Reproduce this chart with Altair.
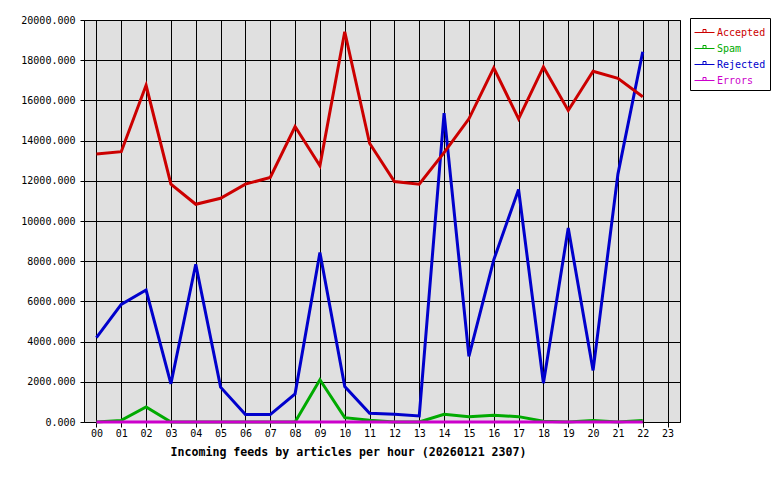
import json
import altair as alt
import pandas as pd

hours = [0, 1, 2, 3, 4, 5, 6, 7, 8, 9, 10, 11, 12, 13, 14, 15, 16, 17, 18, 19, 20, 21, 22]
accepted = [13333, 13450, 16750, 11833, 10833, 11133, 11833, 12167, 14700, 12750, 19417, 13867,
            11967, 11833, 13400, 15083, 17617, 15083, 17667, 15500, 17450, 17100, 16180]
spam = [0, 80, 750, 0, 0, 0, 0, 0, 0, 2100, 217, 90, 0, 0, 383, 267, 333, 267, 40, 0, 80, 0, 80]
rejected = [4200, 5850, 6567, 1900, 7850, 1733, 367, 367, 1400, 8433, 1767, 433, 380, 300,
            15367, 3267, 8067, 11567, 1933, 9650, 2567, 12333, 18417]
errors = [0, 0, 0, 0, 0, 0, 0, 0, 0, 0, 0, 0, 0, 0, 0, 0, 0, 0, 0, 0, 0, 0, 0]

series_names = ["Accepted", "Spam", "Rejected", "Errors"]
series_colors = ["#cc0000", "#00aa00", "#0000cc", "#cc00cc"]
draw_order = ["Spam", "Rejected", "Accepted", "Errors"]
tick_labels = ["00", "01", "02", "03", "04", "05", "06", "07", "08", "09", "10", "11",
               "12", "13", "14", "15", "16", "17", "18", "19", "20", "21", "22", "23"]
y_ticks = [0, 2000, 4000, 6000, 8000, 10000, 12000, 14000, 16000, 18000, 20000]
title_text = "Incoming feeds by articles per hour (20260121 2307)"

rows = []
for name, vals in zip(series_names, [accepted, spam, rejected, errors]):
    for h, v in zip(hours, vals):
        rows.append({"hour": h, "value": v, "series": name})
df = pd.DataFrame(rows)

MONO = "DejaVu Sans Mono"

x_enc = alt.X(
    "hour:Q",
    scale=alt.Scale(domain=[-0.5, 23.5], nice=False, zero=False),
    axis=alt.Axis(
        values=list(range(len(tick_labels))),
        labelExpr=json.dumps(tick_labels).replace('"', "'") + "[datum.value]",
        title=title_text,
        grid=True, gridColor="black", gridOpacity=1, gridWidth=1,
        domain=False,
        tickColor="black", tickSize=5, tickWidth=1,
        labelPadding=1, labelFont=MONO, labelFontSize=10, labelColor="black",
        labelFlush=False, labelOverlap=False,
        titleFont=MONO, titleFontSize=11.6, titleFontWeight="bold", titleColor="black",
        titleX=264, titleY=30, titleAlign="center", titleBaseline="middle",
        titleAnchor="start",
    ),
)
y_enc = alt.Y(
    "value:Q",
    scale=alt.Scale(domain=[0, 20000], nice=False),
    axis=alt.Axis(
        values=y_ticks, format=".3f", title=None,
        grid=True, gridColor="black", gridOpacity=1, gridWidth=1,
        domain=False,
        tickColor="black", tickSize=4, tickWidth=1,
        labelPadding=5, labelFont=MONO, labelFontSize=10, labelColor="black",
        labelFlush=False, labelOverlap=False,
    ),
)
label_color_expr = " : ".join(
    f"datum.value == '{n}' ? '{c}'" for n, c in zip(series_names, series_colors)
) + " : 'black'"
color_enc = alt.Color(
    "series:N",
    scale=alt.Scale(domain=series_names, range=series_colors),
    legend=alt.Legend(
        title=None, orient="none", legendX=606, legendY=-2,
        padding=4, strokeColor="black", fillColor="white", cornerRadius=0,
        symbolType="M-1,0H1M-0.15,0V-0.3H0.15V0", symbolSize=400, symbolStrokeWidth=1,
        labelFont=MONO, labelFontSize=10, labelOffset=2, rowPadding=-1,
        labelColor=alt.ExprRef(expr=label_color_expr),
    ),
)

base = alt.Chart(df).mark_line(strokeWidth=3).encode(x=x_enc, y=y_enc, color=color_enc)
layers = [base.transform_filter(alt.datum.series == s) for s in draw_order]

chart = alt.layer(*layers).properties(
    width=596, height=402,
    autosize=alt.AutoSizeParams(type="none"),
    padding={"left": 76, "top": 12, "right": 92, "bottom": 50},
    background="white",
).configure_view(stroke="black", strokeWidth=1, fill="#e0e0e0")

chart.save("out.html", embed_options={"renderer": "svg", "actions": False})
